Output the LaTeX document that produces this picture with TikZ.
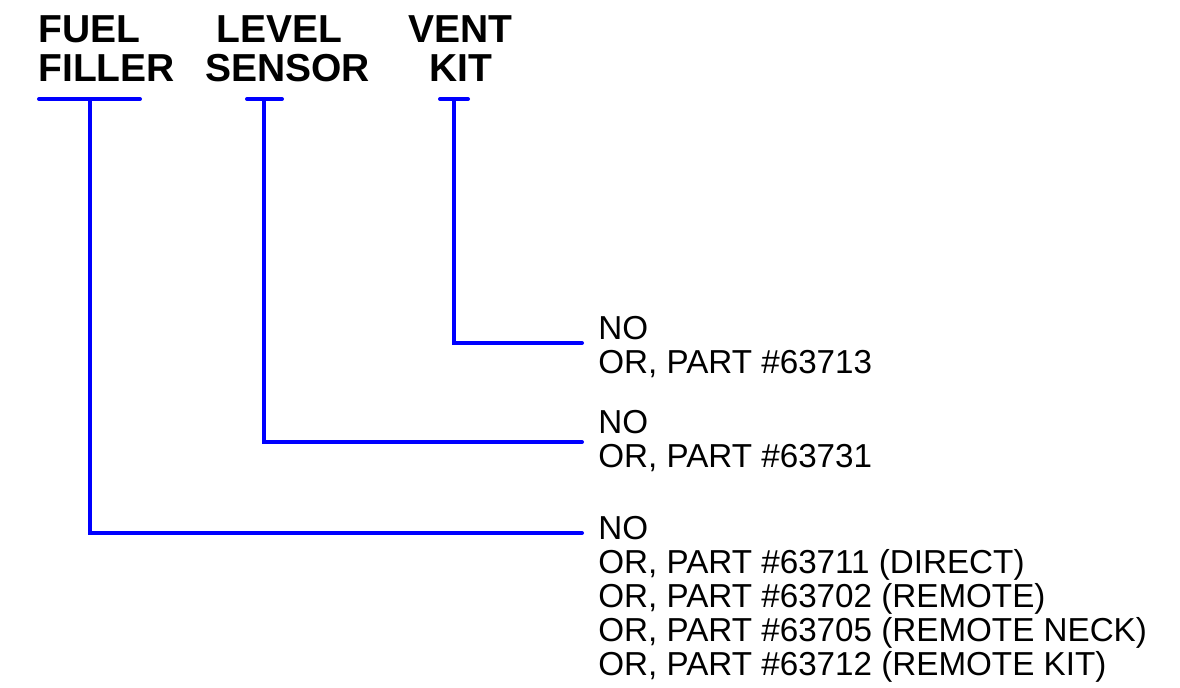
\documentclass[tikz,border=0pt]{standalone}
\usepackage{fontspec}
\setmainfont{Liberation Sans}
\usetikzlibrary{positioning}
\tikzset{
    header/.style={
        anchor=base west,
        inner sep=0pt,
        align=left,
        font=\fontsize{19.5}{19.5}\selectfont\bfseries
    },
    choice/.style={
        anchor=base west,
        inner sep=0pt,
        align=left,
        font=\fontsize{16.6}{17}\selectfont
    },
    wire/.style={
        draw=blue,
        line width=2pt,
        line cap=round
    }
}
\begin{document}
\begin{tikzpicture}[x=0.5pt, y=-0.5pt]
\useasboundingbox (0,0) rectangle (1180,687);

% headers (placed by the baseline of the last line)
\node[header] (fuel) at (38,81) {FUEL\\FILLER};
\node[header, align=center, anchor=base] (level) at (287.5,81) {LEVEL\kern8pt\\SENSOR};
\node[header, align=center, anchor=base] (vent) at (460.5,81) {VENT\\KIT};

% choices
\node[choice] (ventopt) at (598,373) {NO\\OR, PART \#63713};
\node[choice] (levelopt) at (598,467) {NO\\OR, PART \#63731};
\node[choice] (fuelopt) at (598,675) {NO\\OR, PART \#63711 (DIRECT)\\OR, PART \#63702 (REMOTE)\\OR, PART \#63705 (REMOTE NECK)\\OR, PART \#63712 (REMOTE KIT)};

% bars under the headers
\coordinate (fuelhub) at (90,99);
\coordinate (levelhub) at (264,99);
\coordinate (venthub) at (454,99);
\draw[wire] (39,99) -- (140,99);
\draw[wire] (247,99) -- (282,99);
\draw[wire] (440,99) -- (468,99);

% leaders
\coordinate (ventend) at ([xshift=-8pt, yshift=15pt]ventopt.base west);
\coordinate (levelend) at ([xshift=-8pt, yshift=12.5pt]levelopt.base west);
\coordinate (fuelend) at ([xshift=-8pt, yshift=71pt]fuelopt.base west);
\draw[wire] (venthub) |- (ventend);
\draw[wire] (levelhub) |- (levelend);
\draw[wire] (fuelhub) |- (fuelend);
\end{tikzpicture}
\end{document}
